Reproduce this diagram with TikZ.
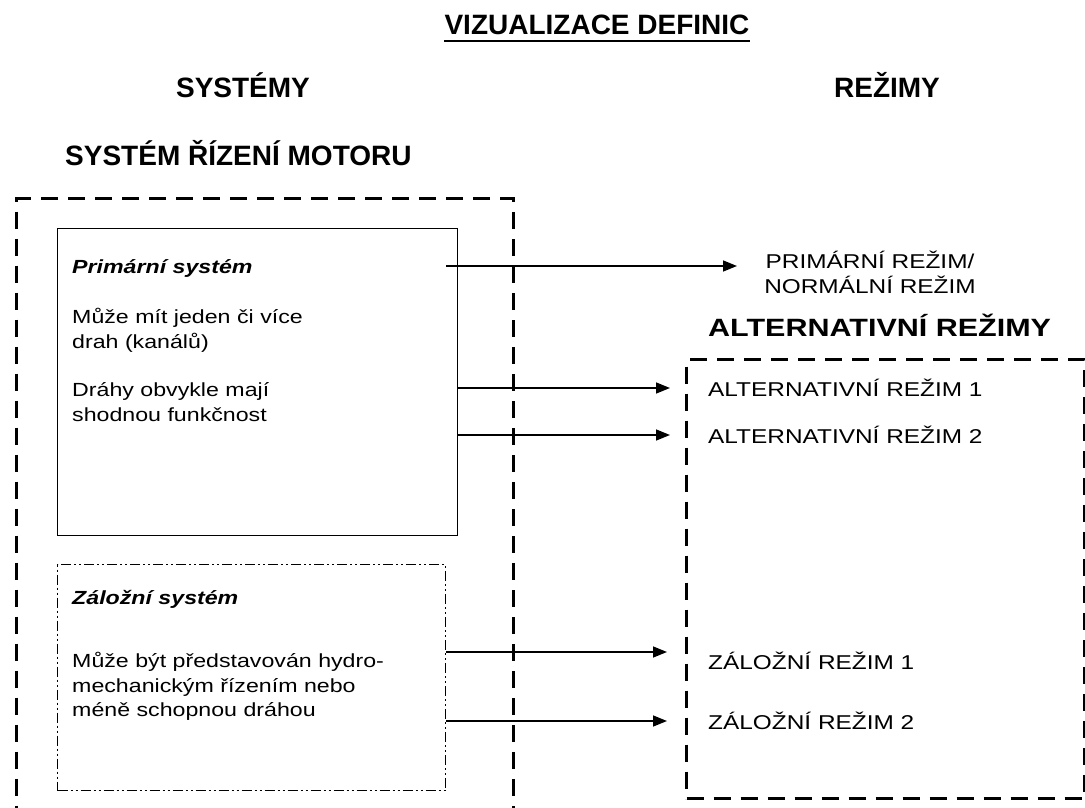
\documentclass[tikz,border=0pt]{standalone}
\usepackage{fontspec}
\setmainfont{Liberation Sans}
\newfontfamily\bodyfont[FakeStretch=1.22]{Liberation Sans}
\usetikzlibrary{arrows.meta}

\begin{document}
\begin{tikzpicture}[x=1pt,y=-1pt,
  head/.style={font=\fontsize{28}{30}\selectfont\bfseries, inner sep=0pt, anchor=base},
  subhead/.style={font=\bodyfont\fontsize{25}{28}\selectfont\bfseries, inner sep=0pt, anchor=base west},
  txt/.style={font=\bodyfont\fontsize{19}{24}\selectfont, inner sep=0pt, anchor=base west},
  ttl/.style={font=\bodyfont\fontsize{19}{24}\selectfont\bfseries\itshape, inner sep=0pt, anchor=base west},
  mode/.style={font=\bodyfont\fontsize{20}{24}\selectfont, inner sep=0pt},
  bigdash/.style={draw, line width=3.2pt, dash pattern=on 17pt off 10pt, inner sep=0pt, anchor=north west},
  solidbox/.style={draw, line width=1.4pt, inner sep=0pt, anchor=north west},
  dashdotbox/.style={draw, line width=1.3pt, dash pattern=on 10pt off 3pt on 2pt off 3pt on 2pt off 3pt, inner sep=0pt, anchor=north west},
  conn/.style={line width=1.5pt, -{Triangle[length=14pt,width=11pt]}}
]
\useasboundingbox (0,0) rectangle (1085,808);
\clip (0,0) rectangle (1085,808);

% headings
\node[head] (title) at (597,35) {VIZUALIZACE DEFINIC};
\draw[line width=2.2pt] ([yshift=-6pt]title.base west) -- ([yshift=-6pt]title.base east);
\node[head] (sys) at (243,98) {SYSTÉMY};
\node[head] (rez) at (887,98) {REŽIMY};
\node[head, anchor=base west] (srm) at (65,165) {SYSTÉM ŘÍZENÍ MOTORU};

% boxes
\node[bigdash, minimum width=497pt, minimum height=640pt] (outer) at (15,197) {};
\node[solidbox, minimum width=400pt, minimum height=307pt] (prim) at (57,228) {};
\node[dashdotbox, minimum width=388pt, minimum height=226pt] (back) at (57,564) {};
\node[bigdash, minimum width=398pt, minimum height=439pt] (altbox) at (685,358) {};

% primary system text
\node[ttl] (pt) at (72,273) {Primární systém};
\node[txt] (p1) at (72,323) {Může mít jeden či více};
\node[txt] (p2) at (72,348) {drah (kanálů)};
\node[txt] (p3) at (72,396) {Dráhy obvykle mají};
\node[txt] (p4) at (72,421) {shodnou funkčnost};

% backup system text
\node[ttl] (bt) at (72,604) {Záložní systém};
\node[txt] (b1) at (72,667) {Může být představován hydro-};
\node[txt] (b2) at (72,692) {mechanickým řízením nebo};
\node[txt] (b3) at (72,716) {méně schopnou dráhou};

% modes
\node[mode, anchor=base] (pm1) at (870,268) {PRIMÁRNÍ REŽIM/};
\node[mode, anchor=base] (pm2) at (870,293) {NORMÁLNÍ REŽIM};
\node[subhead] (alth) at (708,336) {ALTERNATIVNÍ REŽIMY};
\node[mode, anchor=base west] (am1) at (708,396) {ALTERNATIVNÍ REŽIM 1};
\node[mode, anchor=base west] (am2) at (708,443) {ALTERNATIVNÍ REŽIM 2};
\node[mode, anchor=base west] (zm1) at (708,669) {ZÁLOŽNÍ REŽIM 1};
\node[mode, anchor=base west] (zm2) at (708,729) {ZÁLOŽNÍ REŽIM 2};

% connector coordinates
\coordinate (c0s) at (446,266);
\coordinate (c0e) at (737,266);
\coordinate (c1e) at (670,388);
\coordinate (c2e) at (670,435);
\coordinate (c3e) at (667,652);
\coordinate (c4e) at (667,721);

\draw[conn] (c0s) -- (c0e);
\draw[conn] (prim.east |- c1e) -- (c1e);
\draw[conn] (prim.east |- c2e) -- (c2e);
\draw[conn] (back.east |- c3e) -- (c3e);
\draw[conn] (back.east |- c4e) -- (c4e);
\end{tikzpicture}
\end{document}
